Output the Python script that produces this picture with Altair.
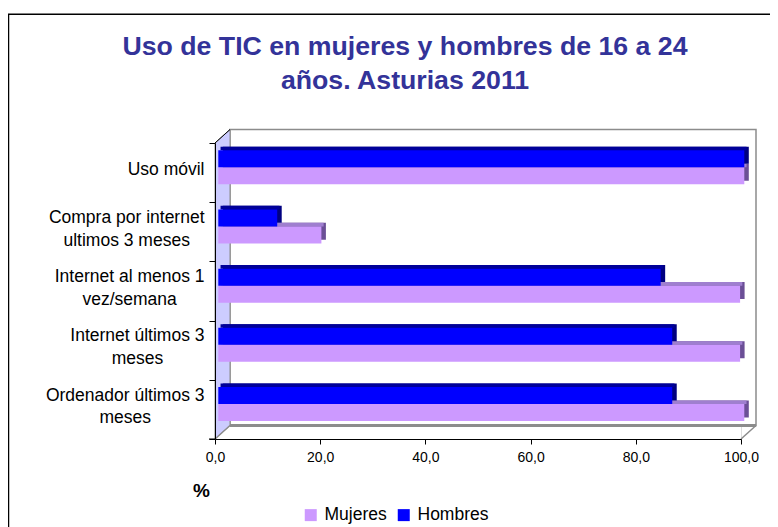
import json
import altair as alt
import pandas as pd

# ---------------- data ----------------
categorias = [
    "Uso móvil",
    "Compra por internet\nultimos 3 meses",
    "Internet al menos 1\nvez/semana",
    "Internet últimos 3\nmeses",
    "Ordenador últimos 3\nmeses",
]
hombres = [100.0, 11.2, 84.1, 86.3, 86.3]
mujeres = [100.0, 19.6, 99.2, 99.2, 100.0]
series = ["Mujeres", "Hombres"]
colores = ["#CC99FF", "#0000FF"]
ticks_x = [0, 20, 40, 60, 80, 100]
titulo = ["Uso de TIC en mujeres y hombres de 16 a 24", "años. Asturias 2011"]

df = pd.DataFrame({
    "categoria": categorias * 2,
    "serie": ["Hombres"] * len(categorias) + ["Mujeres"] * len(categorias),
    "valor": hombres + mujeres,
})

# ---------------- layout ----------------
FONT = "Liberation Sans"
W, H = 526, 296
DX, DY = 15, 13.5          # 3D depth of walls
BX = 3.3                   # bar front face shift
BH = 17                    # bar height
SD = 4.5                   # bar depth
LFS = 17.5                 # category label font size
LLH = 22.5                 # category label line height

# approximate text widths (Arial metrics) for centring label lines
CW = {" ": 278, "/": 278, "1": 556, "3": 556, "C": 722, "I": 278, "O": 778, "U": 722}
def text_w(s, size=LFS):
    return sum(CW.get(c, 222 if c in "il" else 278 if c == "t" else 333 if c == "r" else 500 if c in "svz" else 833 if c == "m" else 556) for c in s) * size / 1000

pad_parts, off_parts = [], []
for c in categorias:
    lines = c.split("\n")
    w = max(text_w(line) for line in lines)
    key = json.dumps(c, ensure_ascii=False)
    pad_parts.append(f"datum.value === {key} ? {5 + w / 2:.1f}")
    off_parts.append(f"datum.value === {key} ? {-3 - (len(lines) - 1) * LLH / 2:.2f}")
pad_expr = " : ".join(pad_parts) + " : 60"
off_expr = " : ".join(off_parts) + " : -3"

x_enc = alt.X(
    "valor:Q",
    scale=alt.Scale(domain=[0, 100], nice=False, zero=True),
    axis=alt.Axis(
        values=ticks_x, labelExpr="replace(format(datum.value, '.1f'), '.', ',')",
        grid=False, domainColor="black", tickColor="black", tickSize=5,
        labelFont=FONT, labelFontSize=14, labelColor="black", labelPadding=6,
        labelFlush=False, labelOverlap=False,
        title="%", titleFont=FONT, titleFontSize=19, titleFontWeight="bold",
        titleColor="black", titleX=-14, titleY=57, titleAlign="center",
        titleBaseline="alphabetic", zindex=1,
    ),
)
y_enc = alt.Y(
    "categoria:N",
    sort=categorias,
    scale=alt.Scale(domain=categorias, paddingInner=0, paddingOuter=0),
    axis=alt.Axis(
        title=None, labelExpr="split(datum.label, '\\n')", tickBand="extent",
        domainColor="black", tickColor="black", tickSize=6,
        labelFont=FONT, labelFontSize=LFS, labelColor="black", labelLineHeight=LLH,
        labelAlign="center", labelBaseline="middle", labelOffset=alt.ExprRef(off_expr),
        labelPadding=alt.ExprRef(pad_expr), labelLimit=300, zindex=1,
    ),
)
color_enc = alt.Color(
    "serie:N",
    scale=alt.Scale(domain=series, range=colores),
    legend=alt.Legend(
        title=None, orient="none", legendX=87, legendY=363, direction="horizontal",
        symbolType="square", symbolSize=144, symbolStrokeWidth=0,
        labelFont=FONT, labelFontSize=17.5, labelColor="black",
        columnPadding=8, labelOffset=5, padding=0,
    ),
)

one = pd.DataFrame({"k": [0]})

def rule(x, y, x2, y2, color, width):
    return alt.Chart(one).mark_rule(color=color, strokeWidth=width).encode(
        x=alt.value(x), y=alt.value(y), x2=alt.value(x2), y2=alt.value(y2))

# outer frame
frame = alt.Chart(one).mark_rect(fillOpacity=0, stroke="black", strokeWidth=1.5).encode(
    x=alt.value(-206.5), y=alt.value(-128.7), x2=alt.value(620), y2=alt.value(420))

# back wall
back = alt.Chart(one).mark_rect(fill="white", stroke="#8c8c8c", strokeWidth=1.5).encode(
    x=alt.value(DX), y=alt.value(-DY), x2=alt.value(W + DX), y2=alt.value(H - DY))

# left wall as custom-shaped symbol (unit = r px)
r = 150.0
cy = H / 2
pts = [(0, 0), (DX, -DY), (DX, H - DY), (0, H)]
path = "M" + " L".join(f"{px / r:.4f},{(py - cy) / r:.4f}" for px, py in pts) + " Z"
left = alt.Chart(one).mark_point(
    shape=path, filled=True, fill="#CCCCFF", fillOpacity=1, stroke="#8c8c8c",
    strokeWidth=1, size=(2 * r) ** 2, opacity=1,
).encode(x=alt.value(0), y=alt.value(cy))

deco = [
    frame, back, left,
    rule(DX, H - DY, W + DX, H - DY, "#8c8c8c", 3),
    rule(0, H, DX, H - DY, "#8c8c8c", 1.5),
    rule(W, H, W + DX, H - DY, "#8c8c8c", 1.5),
    rule(0, 0, DX, -DY, "black", 1),
    rule(-6, H, 0, H, "black", 1),
]

# ---------------- bars ----------------
def bar_layers(serie, top, side, yoff):
    b = alt.Chart(df).transform_filter(alt.datum.serie == serie)
    side_l = b.mark_bar(
        height=BH, yOffset=yoff - SD * 0.8, xOffset=BX + SD, x2Offset=BX + SD,
        color=side).encode(x=x_enc, y=y_enc)
    top_l = b.mark_bar(
        height=SD * 0.8, yOffset=yoff - BH / 2 - SD * 0.4, xOffset=BX + SD / 2,
        x2Offset=BX + SD / 2, color=top).encode(x=x_enc, y=y_enc)
    front_l = b.mark_bar(
        height=BH, yOffset=yoff, xOffset=BX, x2Offset=BX).encode(
        x=x_enc, y=y_enc, color=color_enc)
    return [side_l, top_l, front_l]

bars = (bar_layers("Mujeres", "#9F7FCF", "#6B4F96", 3.15)
        + bar_layers("Hombres", "#000099", "#000080", -13.85))

chart = alt.layer(*deco, *bars).properties(
    width=W, height=H,
    autosize=alt.AutoSizeParams(type="none"),
    padding={"left": 207, "top": 135, "right": 29, "bottom": 88},
    title=alt.TitleParams(
        text=titulo, font=FONT, fontSize=26.7, fontWeight="bold", color="#333399",
        anchor="middle", frame="group", dx=-73, offset=-81, lineHeight=34,
    ),
).configure_view(stroke=None).configure(background="white")

chart.save("out.html", embed_options={"renderer": "svg", "actions": False})
